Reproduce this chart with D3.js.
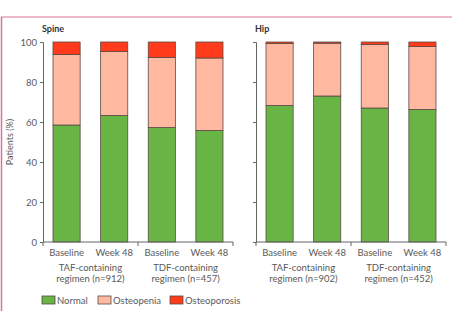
<!DOCTYPE html>
<html>
<head>
<meta charset="utf-8">
<script src="https://cdn.jsdelivr.net/npm/d3@7"></script>
<style>
  body { margin: 0; background: #fff; }
  svg text { font-family: Lato, "Open Sans", sans-serif; fill: #5a5a5a; }
</style>
</head>
<body>
<svg id="chart" width="452" height="311"></svg>
<script>
// données
const categories = ["Normal", "Osteopenia", "Osteoporosis"];
const timepoints = ["Baseline", "Week 48"];
const yTicks = [0, 20, 40, 60, 80, 100];

const spineGroups = [["TAF-containing", "regimen (n=912)"], ["TDF-containing", "regimen (n=457)"]];
const hipGroups = [["TAF-containing", "regimen (n=902)"], ["TDF-containing", "regimen (n=452)"]];

// Normal, Osteopenia, Osteoporosis par barre (TAF base, TAF w48, TDF base, TDF w48)
const spineNormal = [58.5, 63.3, 57.2, 55.8];
const spineOsteopenia = [35.3, 31.9, 35.1, 36.2];
const spineOsteoporosis = [6.2, 4.8, 7.7, 8.0];

const hipNormal = [68.3, 73.0, 67.0, 66.3];
const hipOsteopenia = [31.0, 26.4, 31.7, 31.4];
const hipOsteoporosis = [0.7, 0.6, 1.3, 2.3];

const colors = ["#68b444", "#ffb9a0", "#ff3b1c"];

const svg = d3.select("#chart");

// cadre rose
svg.append("line").attr("x1", 1).attr("x2", 452).attr("y1", 17).attr("y2", 17)
    .attr("stroke", "#d9739b").attr("stroke-width", 1);
svg.append("line").attr("x1", 1.5).attr("x2", 1.5).attr("y1", 17).attr("y2", 311)
    .attr("stroke", "#d9739b").attr("stroke-width", 1.5);

const y = d3.scaleLinear().domain([0, 100]).range([242, 42]);

function panel(title, x0, x1, normal, osteopenia, osteoporosis, groups, showLabels) {
    const g = svg.append("g");
    const x = d3.scaleBand().domain(d3.range(4)).range([x0, x1]).paddingInner(0.43).paddingOuter(0.21);

    const data = normal.map((n, i) => ({ i: i, vals: [n, osteopenia[i], osteoporosis[i]] }));
    data.forEach(d => {
        let acc = 0;
        d.vals.forEach((v, k) => {
            g.append("rect")
                .attr("x", x(d.i))
                .attr("width", x.bandwidth())
                .attr("y", y(acc + v))
                .attr("height", y(acc) - y(acc + v))
                .attr("fill", colors[k])
                .attr("stroke", "#5a4a44")
                .attr("stroke-width", 0.8);
            acc += v;
        });
    });

    // axe y
    const yAxis = g.append("g").attr("transform", "translate(" + x0 + ",0)")
        .call(d3.axisLeft(y).tickValues(yTicks).tickSize(3).tickFormat(showLabels ? d3.format("d") : ""));
    yAxis.select(".domain").attr("stroke", "#666");
    yAxis.selectAll(".tick line").attr("stroke", "#666");
    yAxis.selectAll("text").attr("font-size", 9.5).attr("font-family", "Lato");

    // axe x
    const xAxisY = 242;
    g.append("line").attr("x1", x0).attr("x2", x1).attr("y1", xAxisY).attr("y2", xAxisY).attr("stroke", "#666");
    const mid = (x0 + x1) / 2;
    [x0, mid, x1].forEach(t => {
        g.append("line").attr("x1", t).attr("x2", t).attr("y1", xAxisY).attr("y2", xAxisY + 4).attr("stroke", "#666");
    });

    data.forEach(d => {
        g.append("text")
            .attr("x", x(d.i) + x.bandwidth() / 2)
            .attr("y", 255.5)
            .attr("text-anchor", "middle")
            .attr("font-size", 9.5)
            .text(timepoints[d.i % 2]);
    });

    groups.forEach((lines, j) => {
        const cx = (x(j * 2) + x(j * 2 + 1) + x.bandwidth()) / 2;
        lines.forEach((l, k) => {
            g.append("text")
                .attr("x", cx)
                .attr("y", 270.5 + k * 11.5)
                .attr("text-anchor", "middle")
                .attr("font-size", 9.5)
                .text(l);
        });
    });

    g.append("text")
        .attr("x", x0 - 1)
        .attr("y", 32)
        .attr("font-size", 9)
        .attr("font-weight", "bold")
        .style("fill", "#333")
        .text(title);
}

panel("Spine", 43, 233, spineNormal, spineOsteopenia, spineOsteoporosis, spineGroups, true);
panel("Hip", 256, 446, hipNormal, hipOsteopenia, hipOsteoporosis, hipGroups, false);

// titre axe y
svg.append("text")
    .attr("transform", "translate(13,142) rotate(-90)")
    .attr("text-anchor", "middle")
    .attr("font-size", 9)
    .text("Patients (%)");

// légende
const legendX = [42, 98, 170];
categories.forEach((c, k) => {
    svg.append("rect")
        .attr("x", legendX[k])
        .attr("y", 296)
        .attr("width", 13)
        .attr("height", 8)
        .attr("fill", colors[k])
        .attr("stroke", "#5a4a44")
        .attr("stroke-width", 0.8);
    svg.append("text")
        .attr("x", legendX[k] + 15)
        .attr("y", 303.5)
        .attr("font-size", 9.5)
        .text(c);
});
</script>
</body>
</html>
